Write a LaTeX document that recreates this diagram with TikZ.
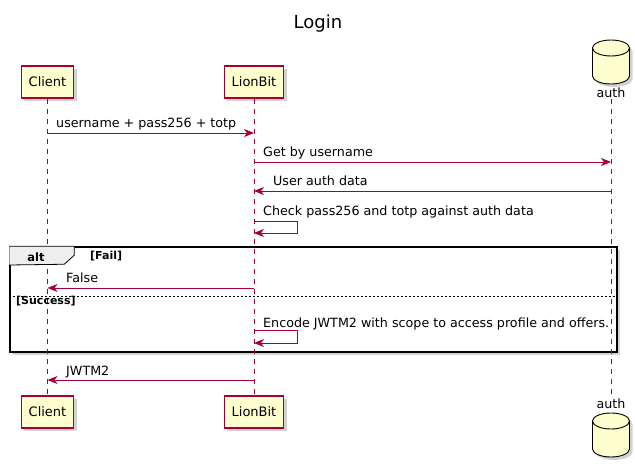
\documentclass[tikz,border=0pt]{standalone}
\usepackage{fontspec}
\setmainfont{DejaVu Sans}
\usetikzlibrary{arrows.meta,shadows}

\definecolor{seqred}{HTML}{A80036}
\definecolor{seqfill}{HTML}{FEFECE}
\definecolor{altfill}{HTML}{EEEEEE}

\tikzset{
  actor/.style={draw=seqred,fill=seqfill,line width=1.1pt,inner xsep=7.5pt,
    minimum height=32pt,font=\fontsize{13}{15}\selectfont,
    drop shadow={shadow xshift=3pt,shadow yshift=-3pt,opacity=.35}},
  life/.style={seqred,line width=.8pt,dash pattern=on 5pt off 5pt},
  msg/.style={seqred,line width=.9pt,-{Stealth[length=10pt,width=8pt,inset=3pt]}},
  txt/.style={font=\fontsize{12.7}{15}\selectfont,inner sep=0pt,anchor=base west},
  guard/.style={font=\fontsize{11}{13}\selectfont\bfseries,inner sep=0pt,anchor=base west},
  dbshape/.style={draw=black,fill=seqfill,line width=.9pt,
    drop shadow={shadow xshift=3pt,shadow yshift=-3pt,opacity=.35}},
}
% cylinder for the auth store, #1 = its top
\newcommand{\authdb}[1]{%
  \path[dbshape] (592.5,#1+8) -- (592.5,#1+36)
    arc[start angle=180,end angle=360,x radius=18.5pt,y radius=8pt]
    -- (629.5,#1+8)
    arc[start angle=0,end angle=180,x radius=18.5pt,y radius=8pt] -- cycle;
  \draw[line width=.9pt] (592.5,#1+8)
    arc[start angle=180,end angle=360,x radius=18.5pt,y radius=8pt];}

\begin{document}
\begin{tikzpicture}[x=1pt,y=-1pt]
  \useasboundingbox (0,0) rectangle (635,465);
  \node[font=\fontsize{18}{20}\selectfont,anchor=base] (title) at (318,29) {Login};
  % participants, top and bottom
  \node[actor] (client) at (47.5,82) {Client};
  \node[actor] (lionbit) at (254,82) {LionBit};
  \authdb{40}
  \node[txt,anchor=base,inner sep=1pt] (auth) at (611,98) {auth};
  \node[actor] (clientB) at (47.5,412) {Client};
  \node[actor] (lionbitB) at (254,412) {LionBit};
  \authdb{413}
  \node[txt,anchor=base,inner sep=1pt] (authB) at (611,408) {auth};
  % alt frame
  \node[draw=black,fill=white,line width=1.5pt,minimum width=607pt,minimum height=105pt,
    drop shadow={shadow xshift=3pt,shadow yshift=-3pt,opacity=.35}] (alt) at (313.5,299.5) {};
  \draw[life] (client) -- (clientB);
  \draw[life] (lionbit) -- (lionbitB);
  \draw[life] (auth) -- (authB);
  \draw[fill=altfill,line width=.8pt] (alt.north west) -- ++(65,0) -- ++(0,9) -- ++(-10,9)
    -- (alt.west |- 0,265);
  \node[guard,anchor=base,font=\fontsize{11.5}{13}\selectfont\bfseries] (altname) at (36,262) {alt};
  \node[guard] (fail) at (90,260) {[Fail]};
  \draw[line width=.6pt,dash pattern=on 2pt off 2pt] (alt.west |- 0,296) -- (alt.east |- 0,296);
  \node[guard] (success) at (16,305) {[Success]};
  % messages
  \draw[msg] (client |- 0,133) -- (lionbit |- 0,133);
  \node[txt] (m1) at (56,128) {username + pass256 + totp};
  \draw[msg] (lionbit |- 0,162) -- (auth |- 0,162);
  \node[txt] (m2) at (263,157) {Get by username};
  \draw[msg] (auth |- 0,191) -- (lionbit |- 0,191);
  \node[txt] (m3) at (273,186) {User auth data};
  \draw[msg] (lionbit |- 0,221) -| (297,233) -- (lionbit |- 0,233);
  \node[txt] (m4) at (263,216) {Check pass256 and totp against auth data};
  \draw[msg] (lionbit |- 0,288) -- (client |- 0,288);
  \node[txt] (m5) at (66,283) {False};
  \draw[msg] (lionbit |- 0,330) -| (297,343) -- (lionbit |- 0,343);
  \node[txt] (m6) at (263,327) {Encode JWTM2 with scope to access profile and offers.};
  \draw[msg] (lionbit |- 0,380) -- (client |- 0,380);
  \node[txt] (m7) at (66,375) {JWTM2};
\end{tikzpicture}
\end{document}
